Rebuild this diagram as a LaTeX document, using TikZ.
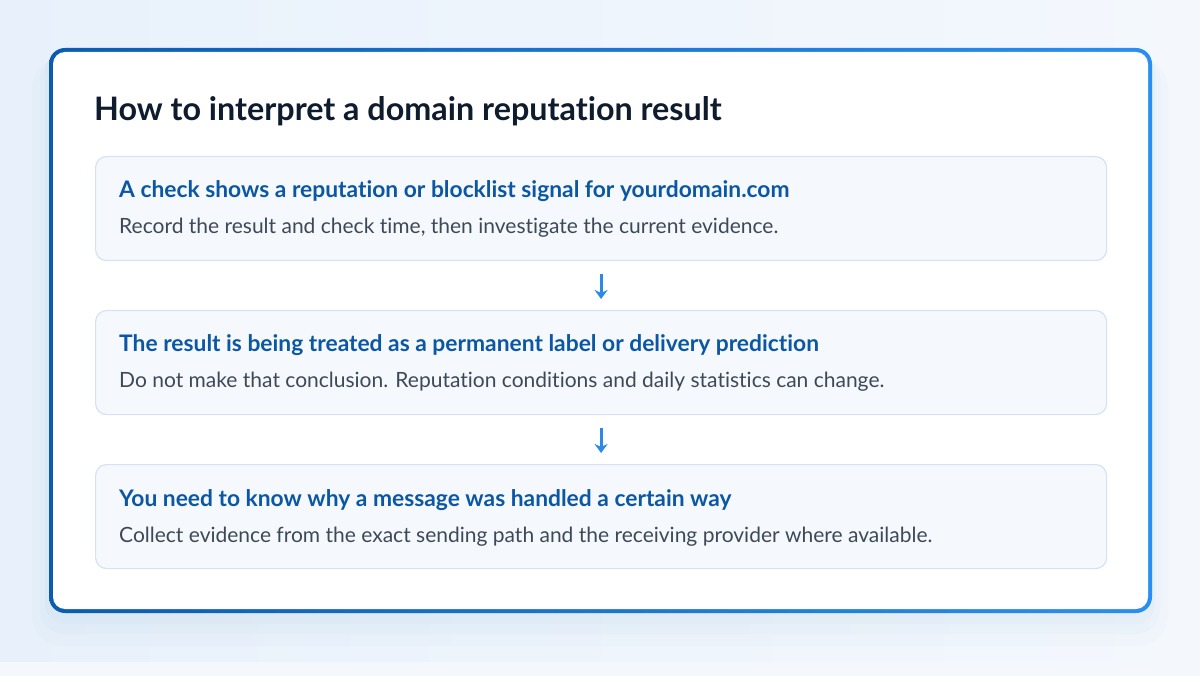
\documentclass[tikz,border=0pt]{standalone}
\usepackage{fontspec}
\setmainfont{Lato}[Ligatures={NoCommon}]
\definecolor{bgA}{HTML}{E8F1FB}
\definecolor{bgB}{HTML}{F4F8FD}
\definecolor{brdL}{HTML}{0B5CAE}
\definecolor{brdR}{HTML}{2A8FF2}
\definecolor{titlec}{HTML}{0E1C2E}
\definecolor{headc}{HTML}{0B57A4}
\definecolor{bodyc}{HTML}{3E4957}
\definecolor{boxfill}{HTML}{F5F9FE}
\definecolor{boxline}{HTML}{D3E3F4}
\definecolor{arrc}{HTML}{2A8AE8}
\tikzset{
  stepbox/.style={draw=boxline, line width=1.2pt, fill=boxfill, rounded corners=11pt,
    minimum width=1011pt, minimum height=104pt, anchor=north west, inner sep=0pt},
  headtxt/.style={anchor=base west, inner sep=0pt, text=headc, font=\fontsize{22.8}{27}\selectfont\bfseries},
  bodytxt/.style={anchor=base west, inner sep=0pt, text=bodyc, font=\fontsize{21}{25}\selectfont},
  arr/.style={draw=arrc, line width=2.8pt, -{Stealth[length=9pt,width=13pt]}}
}
\usetikzlibrary{arrows.meta}
\begin{document}
\begin{tikzpicture}[x=1pt,y=-1pt]
\useasboundingbox (0,0) rectangle (1200,676);
\shade[left color=bgA, right color=bgB] (0,0) rectangle (1200,676);
\fill[bgB] (0,662) rectangle (1200,676);
% soft shadow
\fill[brdL, opacity=0.015, rounded corners=30pt] (32,58) rectangle (1168,646);
\fill[brdL, opacity=0.02, rounded corners=24pt] (40,55) rectangle (1160,634);
\fill[brdL, opacity=0.02, rounded corners=20pt] (45,52) rectangle (1155,624);
% card
\shade[left color=brdL, right color=brdR, rounded corners=16pt] (49,48) rectangle (1152,613);
\fill[white, rounded corners=12pt] (53,52) rectangle (1148,609);
\node[anchor=base west, inner sep=0pt, text=titlec, font=\fontsize{32.3}{38}\selectfont\bfseries] (title) at (94,121) {How to interpret a domain reputation result};
% boxes
\node[stepbox] (b1) at (95,156) {};
\node[stepbox] (b2) at (95,310) {};
\node[stepbox] (b3) at (95,464) {};
\node[headtxt] (h1) at (119,198) {A check shows a reputation or blocklist signal for yourdomain.com};
\node[bodytxt] (t1) at (119,234) {Record the result and check time, then investigate the current evidence.};
\node[headtxt] (h2) at (119,352) {The result is being treated as a permanent label or delivery prediction};
\node[bodytxt] (t2) at (119,388) {Do not make that conclusion. Reputation conditions and daily statistics can change.};
\node[headtxt] (h3) at (119,506) {You need to know why a message was handled a certain way};
\node[bodytxt] (t3) at (119,542) {Collect evidence from the exact sending path and the receiving provider where available.};
% arrows
\draw[arr] ([yshift=-13pt]b1.south) -- ([yshift=11pt]b2.north);
\draw[arr] ([yshift=-13pt]b2.south) -- ([yshift=11pt]b3.north);
\end{tikzpicture}
\end{document}
